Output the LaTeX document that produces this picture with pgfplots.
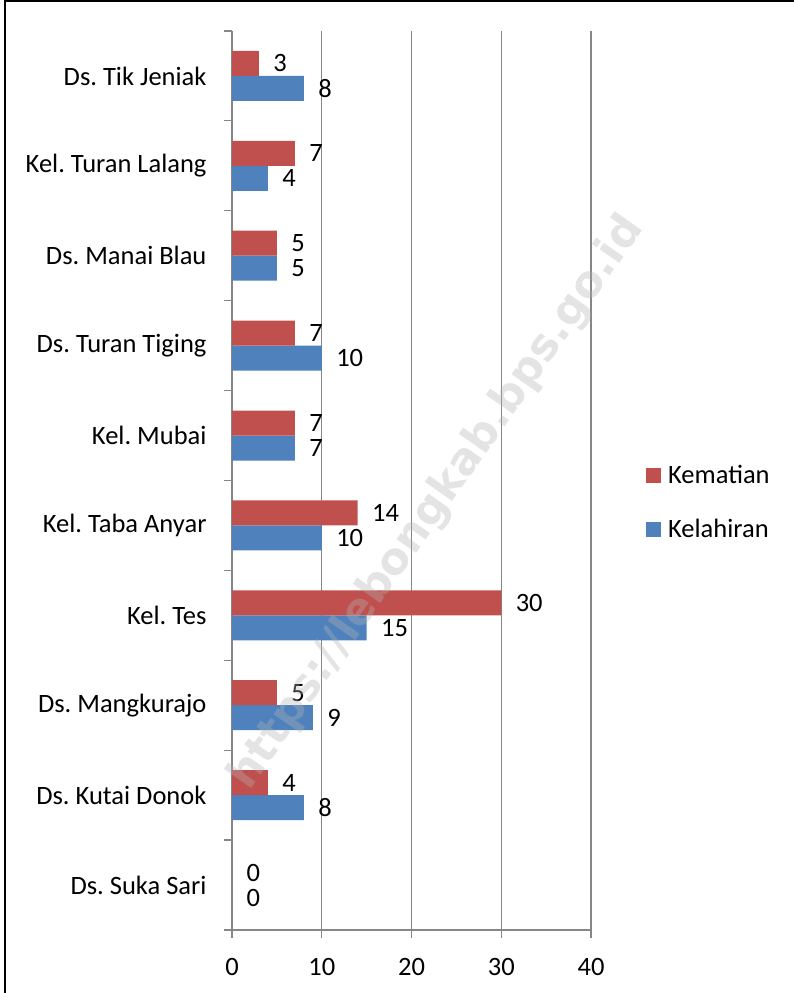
\documentclass[border=0pt]{standalone}
\usepackage{pgfplots}
\pgfplotsset{compat=1.18}
\usepackage{fontspec}
\setmainfont{Carlito}
\newfontfamily\wmfont{DejaVu Sans}
\definecolor{cRed}{HTML}{C0504D}
\definecolor{cBlue}{HTML}{4F81BD}
\definecolor{cGrid}{HTML}{868686}
\newcommand{\fs}{\fontsize{26.5bp}{31bp}\selectfont}
\frenchspacing
\begin{document}
\frenchspacing
\begin{tikzpicture}[x=1bp,y=1bp]
\useasboundingbox (0,0) rectangle (794,993);
\draw[line width=2bp] (4.5,0) -- (4.5,991.5) -- (794,991.5);
\begin{axis}[
  at={(232bp,63bp)}, anchor=south west,
  scale only axis, width=359bp, height=899bp,
  /pgf/number format/assume math mode=true,
  xbar, bar width=25bp,
  xmin=0, xmax=40, ymin=-0.5, ymax=9.5,
  xtick={0,10,20,30,40},
  ytick={0,...,9},
  yticklabels={Ds. Suka Sari, Ds. Kutai Donok, Ds. Mangkurajo, Kel. Tes, Kel. Taba Anyar, Kel. Mubai, Ds. Turan Tiging, Ds. Manai Blau, Kel. Turan Lalang, Ds. Tik Jeniak},
  minor ytick={-0.5,0.5,...,9.5},
  axis x line*=bottom, axis y line*=left,
  axis line style={-, cGrid, line width=1.2bp},
  xmajorgrids, major grid style={cGrid, line width=1.2bp},
  tick style={cGrid, line width=1.2bp},
  major y tick style={draw=none},
  tick align=outside,
  major tick length=8bp, minor tick length=8bp,
  ticklabel style={font=\fs, text=black},
  yticklabel style={xshift=-14bp},
  xticklabel style={yshift=-17bp},
  nodes near coords,
  every node near coord/.append style={font=\fs, text=black, anchor=west, xshift=11bp},
  legend style={at={(1.153,0.4755)}, anchor=west, draw=none, fill=none, font=\fs, row sep=28bp, inner sep=0pt, nodes={inner sep=3bp}},
  legend image code/.code={\fill[#1] (0bp,-7.5bp) rectangle (15bp,7.5bp); \path (19bp,0bp);},
  legend cell align=left,
  reverse legend,
]
\addplot[fill=cBlue, draw=none, bar shift=-12.5bp] coordinates {(0,0) (8,1) (9,2) (15,3) (10,4) (7,5) (10,6) (5,7) (4,8) (8,9)};
\addplot[fill=cRed, draw=none, bar shift=12.5bp] coordinates {(0,0) (4,1) (5,2) (30,3) (14,4) (7,5) (7,6) (5,7) (7,8) (3,9)};
\legend{Kelahiran, Kematian}
\end{axis}
\node[rotate=55, font=\wmfont\bfseries\fontsize{44bp}{52bp}\selectfont, text=black!30, opacity=0.35] at (437,490) {https://lebongkab.bps.go.id};
\end{tikzpicture}
\end{document}
